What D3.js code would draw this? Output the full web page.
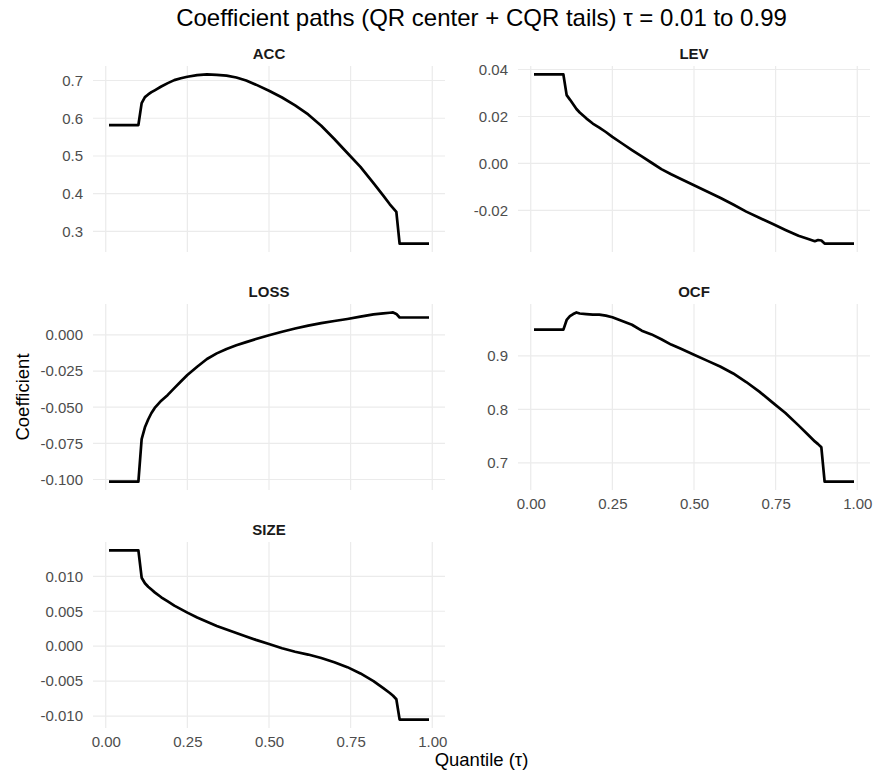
<!DOCTYPE html>
<html>
<head>
<meta charset="utf-8">
<script src="https://cdn.jsdelivr.net/npm/d3@7"></script>
<style>
  body { margin: 0; background: #ffffff; }
  text { font-family: "Liberation Sans", Arial, Helvetica, sans-serif; }
</style>
</head>
<body>
<div id="chart"></div>
<script>
// quantile grid (tails flat below 0.10 and above 0.90)
var tau = [0.01, 0.10, 0.11, 0.12, 0.13, 0.14, 0.15, 0.17, 0.19, 0.21, 0.23, 0.25, 0.28, 0.31,
  0.34, 0.37, 0.40, 0.43, 0.46, 0.50, 0.54, 0.58, 0.62, 0.66, 0.70, 0.74, 0.78, 0.82, 0.85,
  0.87, 0.88, 0.89, 0.90, 0.99];

var panels = ["ACC", "LEV", "LOSS", "OCF", "SIZE"];

var accCoef = [0.582, 0.582, 0.640, 0.656, 0.663, 0.669, 0.674, 0.684, 0.693, 0.701, 0.706, 0.710,
  0.714, 0.716, 0.715, 0.713, 0.708, 0.700, 0.689, 0.673, 0.655, 0.634, 0.610, 0.580, 0.545,
  0.508, 0.471, 0.428, 0.395, 0.372, 0.362, 0.352, 0.268, 0.268];

var levCoef = [0.0379, 0.0379, 0.0291, 0.0272, 0.0252, 0.0232, 0.0217, 0.0192, 0.0170, 0.0153,
  0.0134, 0.0113, 0.0085, 0.0057, 0.0030, 0.0003, -0.0024, -0.0046, -0.0066, -0.0093, -0.0119,
  -0.0146, -0.0175, -0.0205, -0.0231, -0.0257, -0.0283, -0.0308, -0.0322, -0.0331, -0.0326,
  -0.0328, -0.0341, -0.0341];

var lossCoef = [-0.1014, -0.1014, -0.0720, -0.0639, -0.0585, -0.0540, -0.0505, -0.0455, -0.0415,
  -0.0368, -0.0322, -0.0277, -0.0220, -0.0167, -0.0128, -0.0097, -0.0072, -0.0050, -0.0029,
  -0.0003, 0.0022, 0.0044, 0.0064, 0.0081, 0.0096, 0.0110, 0.0126, 0.0142, 0.0149, 0.0153,
  0.0155, 0.0145, 0.0120, 0.0120];

var ocfCoef = [0.949, 0.949, 0.967, 0.974, 0.978, 0.981, 0.979, 0.978, 0.977, 0.977, 0.975, 0.972,
  0.965, 0.958, 0.947, 0.940, 0.931, 0.921, 0.913, 0.902, 0.891, 0.880, 0.867, 0.851, 0.833,
  0.813, 0.793, 0.770, 0.752, 0.740, 0.735, 0.729, 0.665, 0.665];

var sizeCoef = [0.0137, 0.0137, 0.0098, 0.0090, 0.0085, 0.0081, 0.0077, 0.0070, 0.0064, 0.0058,
  0.0053, 0.0048, 0.0041, 0.0035, 0.0029, 0.0024, 0.0019, 0.0014, 0.0009, 0.0003, -0.0003,
  -0.0008, -0.0012, -0.0017, -0.0023, -0.0030, -0.0039, -0.0050, -0.0060, -0.0067, -0.0071,
  -0.0076, -0.0105, -0.0105];

// tick values
var xTicks = [0, 0.25, 0.5, 0.75, 1];
var accTicks = [0.3, 0.4, 0.5, 0.6, 0.7];
var levTicks = [-0.02, 0, 0.02, 0.04];
var lossTicks = [-0.100, -0.075, -0.050, -0.025, 0];
var ocfTicks = [0.7, 0.8, 0.9];
var sizeTicks = [-0.010, -0.005, 0, 0.005, 0.010];

var series = [accCoef, levCoef, lossCoef, ocfCoef, sizeCoef];
var yTicks = [accTicks, levTicks, lossTicks, ocfTicks, sizeTicks];
var yFormats = [".1f", ".2f", ".3f", ".1f", ".3f"];

var width = 876, height = 776;
var colLeft = [93, 518];
var rowTop = [66, 304, 542];
var pw = 352, ph = 186;

// plain hyphen for negatives, like R
var locale = d3.formatLocale({ decimal: ".", thousands: ",", grouping: [3], currency: ["$", ""], minus: "-" });

var svg = d3.select("#chart")
  .append("svg")
  .attr("width", width)
  .attr("height", height);

// ggplot style 5% expansion
function expand(ext) {
  var pad = (ext[1] - ext[0]) * 0.05;
  return [ext[0] - pad, ext[1] + pad];
}

var xDomain = expand(d3.extent(tau));

panels.forEach(function(name, i) {
  var col = i % 2, row = Math.floor(i / 2);
  var left = colLeft[col], top = rowTop[row];
  var vals = series[i];

  var x = d3.scaleLinear().domain(xDomain).range([0, pw]);
  var y = d3.scaleLinear().domain(expand(d3.extent(vals))).range([ph, 0]);

  var g = svg.append("g")
    .attr("transform", "translate(" + left + "," + top + ")");

  // grid
  g.selectAll(".vgrid")
    .data(xTicks)
    .enter()
    .append("line")
    .attr("x1", function(d) { return x(d); })
    .attr("x2", function(d) { return x(d); })
    .attr("y1", 0)
    .attr("y2", ph)
    .attr("stroke", "#EBEBEB")
    .attr("stroke-width", 1.2);

  g.selectAll(".hgrid")
    .data(yTicks[i])
    .enter()
    .append("line")
    .attr("x1", 0)
    .attr("x2", pw)
    .attr("y1", function(d) { return y(d); })
    .attr("y2", function(d) { return y(d); })
    .attr("stroke", "#EBEBEB")
    .attr("stroke-width", 1.2);

  // y axis labels
  var yAxis = d3.axisLeft(y)
    .tickValues(yTicks[i])
    .tickFormat(locale.format(yFormats[i]))
    .tickSize(0)
    .tickPadding(10);

  g.append("g")
    .attr("class", "y_axis")
    .call(yAxis)
    .call(function(a) { a.select(".domain").remove(); })
    .selectAll(".tick text")
    .attr("fill", "#4D4D4D")
    .style("font-size", "15px")
    .style("font-family", "Liberation Sans, Arial, sans-serif");

  // x labels only on the bottom panel of each column
  if (i >= 3) {
    var xAxis = d3.axisBottom(x)
      .tickValues(xTicks)
      .tickFormat(locale.format(".2f"))
      .tickSize(0)
      .tickPadding(8);

    g.append("g")
      .attr("class", "x_axis")
      .attr("transform", "translate(0," + ph + ")")
      .call(xAxis)
      .call(function(a) { a.select(".domain").remove(); })
      .selectAll(".tick text")
      .attr("fill", "#4D4D4D")
      .style("font-size", "15px")
      .style("font-family", "Liberation Sans, Arial, sans-serif");
  }

  // coefficient path
  var line = d3.line()
    .x(function(d, j) { return x(tau[j]); })
    .y(function(d) { return y(d); });

  g.append("path")
    .datum(vals)
    .attr("d", line)
    .attr("fill", "none")
    .attr("stroke", "#000000")
    .attr("stroke-width", 2.7)
    .attr("stroke-linejoin", "round");

  // strip label
  g.append("text")
    .attr("x", pw / 2)
    .attr("y", -7)
    .attr("text-anchor", "middle")
    .attr("font-weight", "bold")
    .attr("fill", "#1A1A1A")
    .style("font-size", "15px")
    .text(name);
});

// titles
svg.append("text")
  .attr("x", (colLeft[0] + colLeft[1] + pw) / 2)
  .attr("y", 26)
  .attr("text-anchor", "middle")
  .attr("fill", "#000000")
  .style("font-size", "24px")
  .text("Coefficient paths (QR center + CQR tails) \u03c4 = 0.01 to 0.99");

svg.append("text")
  .attr("x", (colLeft[0] + colLeft[1] + pw) / 2)
  .attr("y", 766)
  .attr("text-anchor", "middle")
  .attr("fill", "#000000")
  .style("font-size", "18.5px")
  .text("Quantile (\u03c4)");

svg.append("text")
  .attr("transform", "translate(29," + (rowTop[0] + rowTop[2] + ph) / 2 + ") rotate(-90)")
  .attr("text-anchor", "middle")
  .attr("fill", "#000000")
  .style("font-size", "18.5px")
  .text("Coefficient");
</script>
</body>
</html>
